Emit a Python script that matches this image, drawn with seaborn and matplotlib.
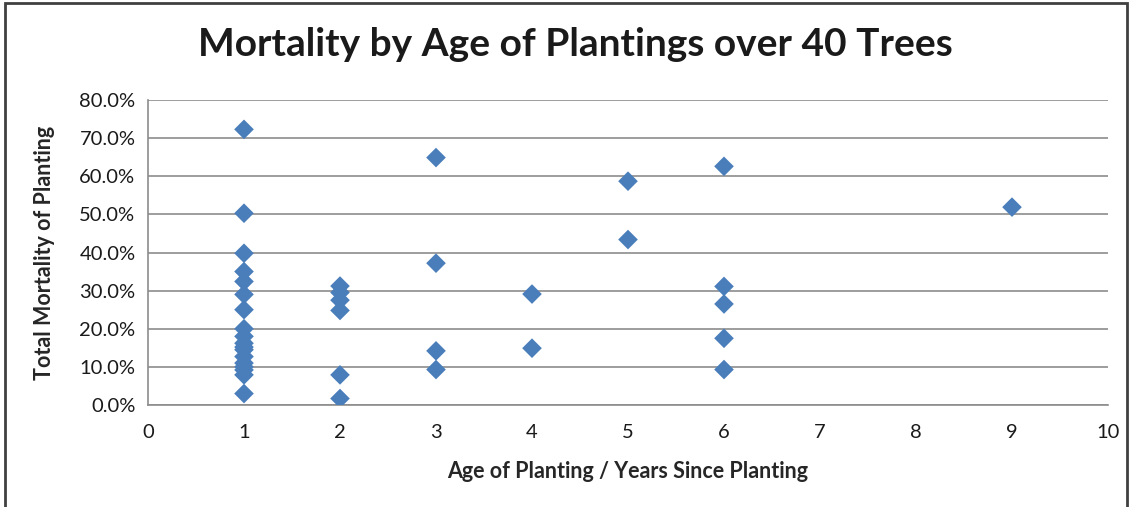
import seaborn as sns
import matplotlib.pyplot as plt
import matplotlib.patches as mpatches
from matplotlib.ticker import PercentFormatter
import pandas as pd

# 数据: 种植年龄 与 总死亡率(%)
age_1 = [1] * 18
mort_1 = [72.3, 50.3, 39.8, 35.0, 32.4, 29.0, 25.0, 20.0, 18.0, 16.2, 15.2,
          14.5, 12.7, 11.0, 10.0, 9.2, 7.9, 3.0]
age_2 = [2] * 6
mort_2 = [31.2, 29.5, 27.5, 24.8, 7.9, 1.7]
age_3 = [3] * 4
mort_3 = [64.9, 37.2, 14.2, 9.3]
age_4 = [4] * 2
mort_4 = [29.1, 14.9]
age_5 = [5] * 2
mort_5 = [58.7, 43.4]
age_6 = [6] * 5
mort_6 = [62.6, 31.1, 26.5, 17.5, 9.3]
age_9 = [9]
mort_9 = [51.9]

df = pd.DataFrame({
    'age': age_1 + age_2 + age_3 + age_4 + age_5 + age_6 + age_9,
    'mortality': mort_1 + mort_2 + mort_3 + mort_4 + mort_5 + mort_6 + mort_9,
})

sns.set_style("white")
plt.rcParams['font.family'] = ['Lato', 'DejaVu Sans']

fig = plt.figure(figsize=(11.33, 5.07), dpi=100)
ax = fig.add_axes([148 / 1133, 1 - 405 / 507, 960 / 1133, 305 / 507])

sns.scatterplot(data=df, x='age', y='mortality', ax=ax, marker='D', s=100,
                color='#4A7EBB', edgecolor='none', zorder=3)

ax.set_xlim(0, 10)
ax.set_ylim(0, 80)
ax.set_xticks(range(0, 11))
ax.set_yticks(range(0, 81, 10))
ax.yaxis.set_major_formatter(PercentFormatter(decimals=1))
ax.grid(axis='y', color='#8C8C8C', linewidth=1.2, zorder=0)
ax.grid(axis='x', visible=False)
for s in ['top', 'right']:
    ax.spines[s].set_visible(False)
for s in ['left', 'bottom']:
    ax.spines[s].set_color('#8C8C8C')
    ax.spines[s].set_linewidth(1.2)
ax.tick_params(axis='both', labelsize=14.5, colors='#8C8C8C', labelcolor='#1a1a1a',
               length=5, width=1, direction='out')
ax.tick_params(axis='x', pad=9)
ax.tick_params(axis='y', pad=4)

ax.set_xlabel('Age of Planting / Years Since Planting', fontsize=15.5,
              fontweight='bold')
ax.set_ylabel('Total Mortality of Planting', fontsize=15.5, fontweight='bold')
ax.xaxis.set_label_coords(0.5, -(472 - 405) / 305, transform=ax.transAxes)
ax.yaxis.set_label_coords(-(148 - 45) / 960, 0.5)
ax.xaxis.label.set_va('center')
ax.yaxis.label.set_va('center')
fig.text(575 / 1133, 1 - 45 / 507, 'Mortality by Age of Plantings over 40 Trees',
         ha='center', va='center', fontsize=28, fontweight='bold', color='#1a1a1a')

# 外框
fig.patches.append(mpatches.Rectangle((5 / 1133, -0.02), 1122 / 1133, 1 - 3 / 507 + 0.02,
                                      transform=fig.transFigure, fill=False,
                                      edgecolor='#404040', linewidth=2))

fig.savefig('out.png', dpi=100)
